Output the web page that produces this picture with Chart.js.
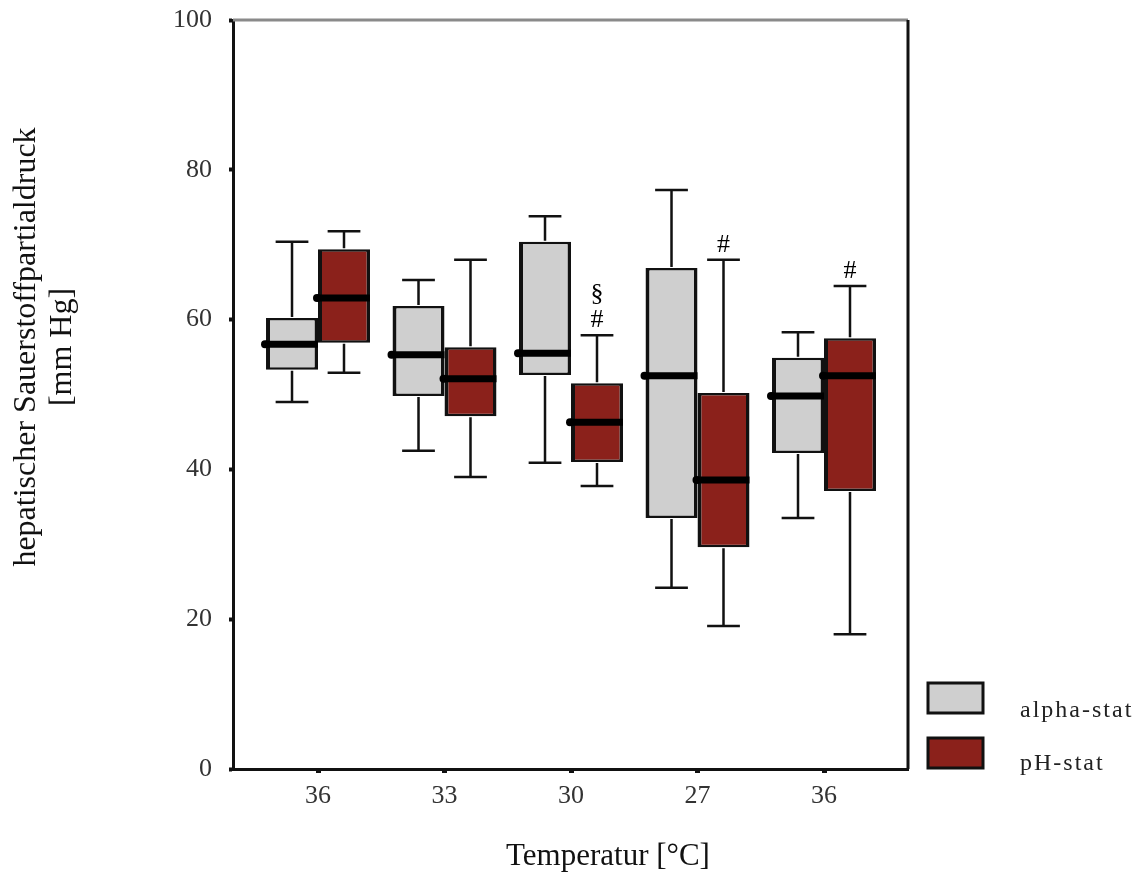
<!DOCTYPE html>
<html><head><meta charset="utf-8">
<script src="https://cdn.jsdelivr.net/npm/chart.js@4.4.0/dist/chart.umd.min.js"></script>
<style>html,body{margin:0;padding:0;background:#fff}canvas{display:block}</style>
</head><body>
<canvas id="c" width="1146" height="874"></canvas>
<script>
// ---- data ----
const categories = ['36', '33', '30', '27', '36'];
const yTickValues = [0, 20, 40, 60, 80, 100];
const seriesNames = ['alpha-stat', 'pH-stat'];
const alphaMin = [49.0, 42.5, 40.9, 24.2, 33.5];
const alphaQ1  = [53.3, 49.8, 52.6, 33.5, 42.2];
const alphaMed = [56.7, 55.3, 55.5, 52.5, 49.8];
const alphaQ3  = [60.2, 61.8, 70.4, 66.9, 54.9];
const alphaMax = [70.4, 65.3, 73.8, 77.3, 58.3];
const phMin = [52.9, 39.0, 37.8, 19.1, 18.0];
const phQ1  = [56.9, 47.1, 41.0, 29.6, 37.1];
const phMed = [62.9, 52.1, 46.3, 38.6, 52.5];
const phQ3  = [69.4, 56.3, 51.5, 50.2, 57.5];
const phMax = [71.8, 68.0, 57.9, 68.0, 64.5];
const phMarkLow  = ['', '', '#', '#', '#'];
const phMarkHigh = ['', '', '§', '', ''];
const yTitleLines = ['hepatischer Sauerstoffpartialdruck', '[mm Hg]'];
const xTitleText = 'Temperatur [°C]';

const SERIF = "'Liberation Serif', 'Times New Roman', serif";
const colors = ['#cfcfcf', '#8b211b'];

const boxExtras = {
  id: 'boxExtras',
  afterDatasetsDraw(chart) {
    const ctx = chart.ctx, ys = chart.scales.y;
    const sets = [
      {min: alphaMin, med: alphaMed, max: alphaMax, q1: alphaQ1, q3: alphaQ3},
      {min: phMin, med: phMed, max: phMax, q1: phQ1, q3: phQ3}
    ];
    ctx.save();
    sets.forEach((s, di) => {
      const meta = chart.getDatasetMeta(di);
      meta.data.forEach((bar, j) => {
        const cx = bar.x, w = bar.width, cap = w * 0.63;
        const pMax = ys.getPixelForValue(s.max[j]);
        const pQ3 = ys.getPixelForValue(s.q3[j]);
        const pQ1 = ys.getPixelForValue(s.q1[j]);
        const pMin = ys.getPixelForValue(s.min[j]);
        const pMed = ys.getPixelForValue(s.med[j]);
        ctx.strokeStyle = '#111';
        ctx.lineWidth = 2.5;
        ctx.beginPath();
        ctx.moveTo(cx, pQ3 - 1); ctx.lineTo(cx, pMax);
        ctx.moveTo(cx - cap / 2, pMax); ctx.lineTo(cx + cap / 2, pMax);
        ctx.moveTo(cx, pQ1 + 1); ctx.lineTo(cx, pMin);
        ctx.moveTo(cx - cap / 2, pMin); ctx.lineTo(cx + cap / 2, pMin);
        ctx.stroke();
        // median
        ctx.strokeStyle = '#000';
        ctx.lineWidth = 7;
        ctx.beginPath();
        ctx.moveTo(cx - w / 2 - 1, pMed); ctx.lineTo(cx + w / 2, pMed);
        ctx.stroke();
        ctx.fillStyle = '#000';
        ctx.beginPath();
        ctx.arc(cx - w / 2 - 1, pMed, 4, 0, Math.PI * 2);
        ctx.fill();
        if (di === 1) {
          ctx.font = '26px ' + SERIF;
          ctx.textAlign = 'center';
          ctx.textBaseline = 'middle';
          ctx.fillStyle = '#000';
          if (phMarkLow[j]) ctx.fillText(phMarkLow[j], cx, pMax - 15);
          if (phMarkHigh[j]) ctx.fillText(phMarkHigh[j], cx, pMax - 41);
        }
      });
    });
    ctx.restore();
  },
  afterDraw(chart) {
    const ctx = chart.ctx, a = chart.chartArea;
    ctx.save();
    // frame: top (grey) and right (black)
    ctx.lineWidth = 3;
    ctx.strokeStyle = '#8a8a8a';
    ctx.beginPath(); ctx.moveTo(a.left, a.top); ctx.lineTo(a.right, a.top); ctx.stroke();
    ctx.strokeStyle = '#111';
    ctx.beginPath(); ctx.moveTo(a.right, a.top); ctx.lineTo(a.right, a.bottom); ctx.stroke();
    // axis titles
    ctx.fillStyle = '#111';
    ctx.font = '31px ' + SERIF;
    ctx.textAlign = 'center';
    ctx.textBaseline = 'middle';
    ctx.fillText(xTitleText, 608, 857);
    ctx.font = '32px ' + SERIF;
    ctx.save();
    ctx.translate(27, 347);
    ctx.rotate(-Math.PI / 2);
    ctx.fillText(yTitleLines[0], 0, 0);
    ctx.restore();
    ctx.save();
    ctx.translate(63, 347);
    ctx.rotate(-Math.PI / 2);
    ctx.fillText(yTitleLines[1], 0, 0);
    ctx.restore();
    // legend
    const boxes = [{y: 683}, {y: 738}];
    const baselines = [717, 770];
    boxes.forEach((b, i) => {
      ctx.fillStyle = colors[i];
      ctx.fillRect(928, b.y, 55, 30);
      ctx.strokeStyle = '#111';
      ctx.lineWidth = 3;
      ctx.strokeRect(928, b.y, 55, 30);
      ctx.fillStyle = '#222';
      ctx.font = '24px ' + SERIF;
      ctx.textAlign = 'left';
      ctx.textBaseline = 'alphabetic';
      if ('letterSpacing' in ctx) ctx.letterSpacing = '2px';
      ctx.fillText(seriesNames[i], 1020, baselines[i]);
      if ('letterSpacing' in ctx) ctx.letterSpacing = '0px';
    });
    ctx.restore();
  }
};

const mk = (q1, q3) => q1.map((v, i) => ({x: i, y: [v, q3[i]]}));

new Chart(document.getElementById('c'), {
  type: 'bar',
  data: {
    datasets: [
      {label: seriesNames[0], data: mk(alphaQ1, alphaQ3), backgroundColor: colors[0],
       borderColor: '#111', borderWidth: {top: 2.5, bottom: 2.5, left: 4, right: 3.5}, borderSkipped: false},
      {label: seriesNames[1], data: mk(phQ1, phQ3), backgroundColor: colors[1],
       borderColor: '#111', borderWidth: {top: 2.5, bottom: 2.5, left: 4, right: 3.5}, borderSkipped: false}
    ]
  },
  options: {
    responsive: false,
    animation: false,
    devicePixelRatio: 1,
    layout: {padding: {left: 0, top: 20, right: 238, bottom: 0}},
    categoryPercentage: 0.822,
    barPercentage: 1.0,
    plugins: {legend: {display: false}, tooltip: {enabled: false}},
    scales: {
      x: {
        type: 'linear',
        min: -0.672, max: 4.664,
        offset: false,
        afterBuildTicks(scale) { scale.ticks = categories.map((c, i) => ({value: i})); },
        afterFit(scale) { scale.height = 874 - 769; scale.paddingLeft = 0; scale.paddingRight = 0; },
        ticks: {
          callback: (v) => categories[v] ?? '',
          font: {family: SERIF, size: 26}, color: '#333', padding: 8, maxRotation: 0, autoSkip: false
        },
        grid: {drawOnChartArea: false, drawTicks: true, tickLength: 4, tickWidth: 5, tickColor: '#111', offset: false},
        border: {display: true, color: '#111', width: 3}
      },
      y: {
        min: 0, max: 100,
        afterBuildTicks(scale) { scale.ticks = yTickValues.map(v => ({value: v})); },
        afterFit(scale) { scale.width = 233; scale.paddingTop = 0; scale.paddingBottom = 0; },
        ticks: {font: {family: SERIF, size: 26}, color: '#333', padding: 17},
        grid: {drawOnChartArea: false, drawTicks: true, tickLength: 4, tickWidth: 4, tickColor: '#111'},
        border: {display: true, color: '#111', width: 3}
      }
    }
  },
  plugins: [boxExtras]
});
</script>
</body></html>
